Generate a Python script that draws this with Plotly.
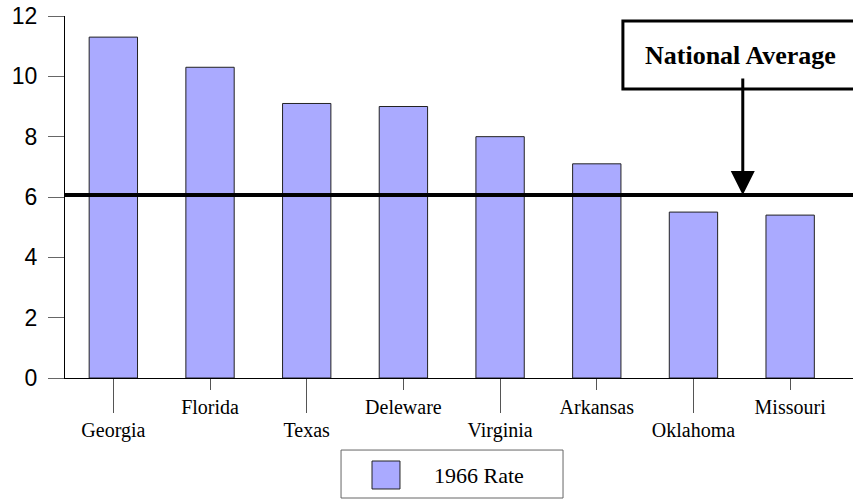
import plotly.graph_objects as go

states = ["Georgia", "Florida", "Texas", "Deleware", "Virginia", "Arkansas", "Oklahoma", "Missouri"]
rate_1966 = [11.3, 10.3, 9.1, 9.0, 8.0, 7.1, 5.5, 5.4]
national_average = 6.07
series_name = "1966 Rate"
y_ticks = [0, 2, 4, 6, 8, 10, 12]

BAR = "#aaaaff"
xpos = list(range(len(states)))
xr = [-0.5, 7.65]

fig = go.Figure()
fig.add_trace(go.Bar(x=xpos, y=rate_1966, width=0.5, name=series_name,
                     marker=dict(color=BAR, line=dict(color="#222", width=1)),
                     showlegend=False))
# national average line
fig.add_trace(go.Scatter(x=xr, y=[national_average, national_average], mode="lines",
                         line=dict(color="black", width=4), showlegend=False, hoverinfo="skip"))
# invisible trace for second x axis
fig.add_trace(go.Scatter(x=[xpos[1]], y=[None], xaxis="x2", showlegend=False))

even = xpos[0::2]
odd = xpos[1::2]
fig.update_layout(
    width=853, height=502,
    margin=dict(l=65, r=0, t=16, b=124),
    paper_bgcolor="white", plot_bgcolor="white",
    xaxis=dict(range=xr, tickvals=even, ticktext=[states[i] for i in even],
               ticks="outside", ticklen=34, tickcolor="#555", tickwidth=1,
               showline=True, linecolor="black", linewidth=1, showgrid=False, zeroline=False,
               tickfont=dict(family="Liberation Serif", size=20, color="black"),
               ticklabelstandoff=0),
    xaxis2=dict(range=xr, overlaying="x", anchor="y", side="bottom",
                tickvals=odd, ticktext=[states[i] for i in odd],
                ticks="outside", ticklen=11, tickcolor="#555", tickwidth=1,
                showline=False, showgrid=False, zeroline=False,
                tickfont=dict(family="Liberation Serif", size=20, color="black"),
                ticklabelstandoff=0),
    yaxis=dict(range=[0, 12], tickvals=y_ticks, ticks="outside", ticklen=16,
               tickcolor="#666", tickwidth=1, showline=True, linecolor="black", linewidth=1,
               showgrid=False, zeroline=False,
               tickfont=dict(family="Liberation Sans", size=23, color="black"),
               ticklabelstandoff=6),
    showlegend=False,
)

# National Average callout box
fig.add_shape(type="rect", xref="paper", yref="paper", x0=0.708, x1=1.02, y0=0.798, y1=0.986,
              line=dict(color="black", width=3), fillcolor="white", layer="above")
fig.add_annotation(xref="paper", yref="paper", x=0.857, y=0.892, xanchor="center", yanchor="middle",
                   text="<b>National Average</b>",
                   showarrow=False, font=dict(family="Liberation Serif", size=26, color="black"))
fig.add_annotation(x=6.51, y=national_average, ax=6.51, ay=9.98, axref="x", ayref="y",
                   text="", showarrow=True, arrowhead=2, arrowwidth=3, arrowsize=1.6,
                   arrowcolor="black", standoff=0)

# Legend (manual)
fig.add_shape(type="rect", xref="paper", yref="paper", x0=0.3503, x1=0.632, y0=-0.3315, y1=-0.199,
              line=dict(color="#666", width=1), fillcolor="white")
fig.add_shape(type="rect", xref="paper", yref="paper", x0=0.3896, x1=0.4251, y0=-0.3066, y1=-0.2293,
              line=dict(color="#222", width=1), fillcolor=BAR)
fig.add_annotation(xref="paper", yref="paper", x=0.4657, y=-0.268, xanchor="left", yanchor="middle",
                   text=series_name,
                   showarrow=False, font=dict(family="Liberation Serif", size=22, color="black"))

fig.write_html("out.html", config={"displayModeBar": False},
               post_script="document.body.style.margin='0';")
